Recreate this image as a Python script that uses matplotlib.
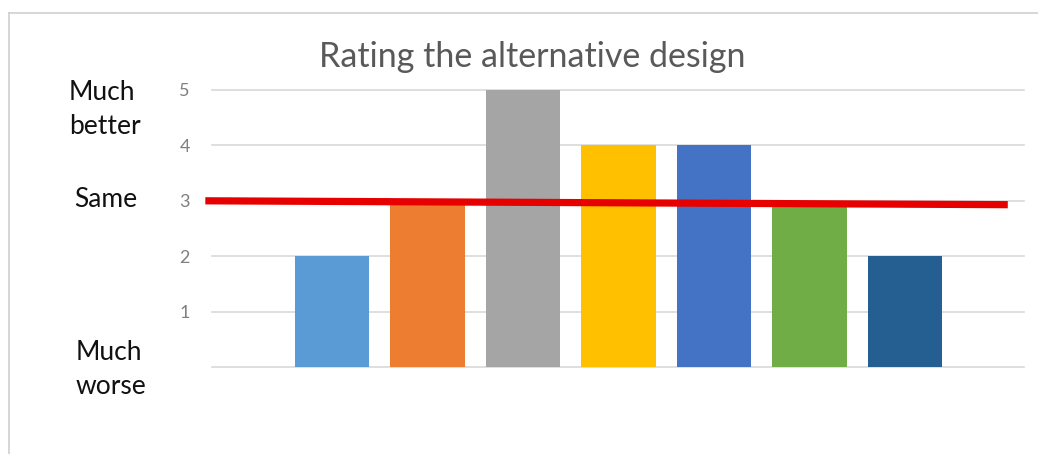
import matplotlib.pyplot as plt
from matplotlib.lines import Line2D

# ratings per design variant (1 = much worse, 3 = same, 5 = much better)
ratings = [2, 3, 5, 4, 4, 3, 2]
bar_colors = ["#5B9BD5", "#ED7D31", "#A5A5A5", "#FFC000", "#4472C4", "#70AD47", "#255E91"]
y_ticks = [0, 1, 2, 3, 4, 5]
y_tick_labels = ["", "1", "2", "3", "4", "5"]

# hand-drawn "same" reference line (slightly tilted), in data units
same_line_x = [-1.33, 7.08]
same_line_y = [3.0, 2.93]

# scale captions on the left: (text, y in data units, left edge in px)
scale_labels = [("Much\nbetter", 4.64, 69), ("Same", 3.03, 74), ("Much\nworse", -0.05, 76)]

plt.rcParams["font.family"] = ["Lato", "DejaVu Sans"]

W, H = 1038, 454
fig = plt.figure(figsize=(W / 100, H / 100), dpi=100)
ax = fig.add_axes([212 / W, 1 - 367 / H, (1024 - 212) / W, (367 - 90) / H])

x = range(len(ratings))
ax.bar(x, ratings, width=0.78, color=bar_colors, zorder=2)

ax.set_xlim(-1.26, 7.25)
ax.set_ylim(0, 5)
ax.set_yticks(y_ticks)
ax.set_yticklabels(y_tick_labels, color="#7f7f7f", fontsize=13)
ax.set_xticks([])
ax.tick_params(axis="y", length=0, pad=16)
ax.grid(axis="y", color="#d9d9d9", linewidth=1.2, zorder=0)
for gl in ax.yaxis.get_gridlines():
    gl.set_clip_on(False)
for s in ax.spines.values():
    s.set_visible(False)

ax.plot(same_line_x, same_line_y, color="#e60000", linewidth=5.2,
        solid_capstyle="butt", clip_on=False, zorder=3)

fig.text(532 / W, 1 - 57 / H, "Rating the alternative design", color="#595959",
         fontsize=24.5, ha="center", va="center")

for text, yv, xpx in scale_labels:
    ax.annotate(text, xy=(xpx / W, yv), xycoords=("figure fraction", "data"),
                ha="left", va="center", fontsize=19, color="#111111",
                linespacing=1.45, annotation_clip=False)

# light frame on the top and left edges
fig.add_artist(Line2D([9 / W, 9 / W], [0, 1 - 13 / H], transform=fig.transFigure,
                      color="#d0d0d0", linewidth=1.2))
fig.add_artist(Line2D([9 / W, 1], [1 - 13 / H, 1 - 13 / H], transform=fig.transFigure,
                      color="#d0d0d0", linewidth=1.2))

fig.savefig("out.png", dpi=100, facecolor="white")
